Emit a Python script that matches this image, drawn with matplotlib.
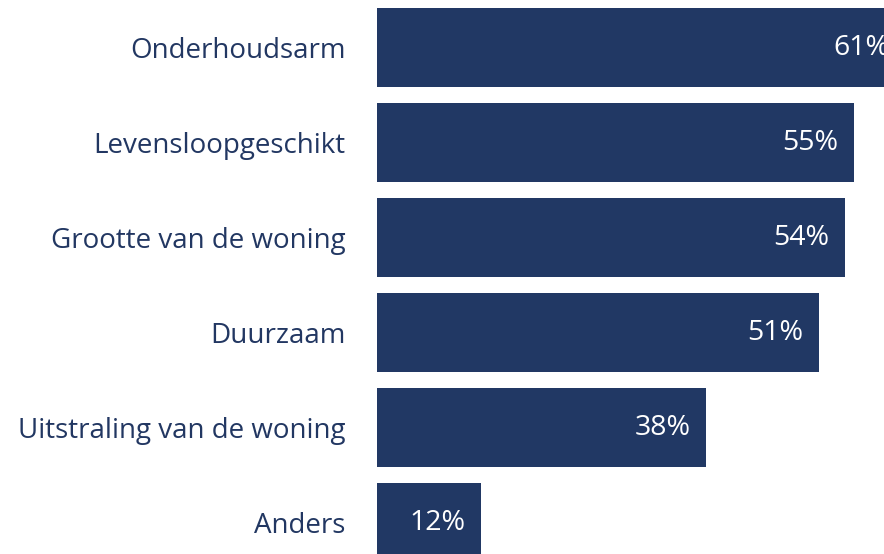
import matplotlib.pyplot as plt

categories = ["Onderhoudsarm", "Levensloopgeschikt", "Grootte van de woning",
              "Duurzaam", "Uitstraling van de woning", "Anders"]
values = [61, 55, 54, 51, 38, 12]

bar_color = "#213864"
text_color = "#223762"

plt.rcParams['font.family'] = ['Open Sans', 'DejaVu Sans']

fig = plt.figure(figsize=(8.84, 5.54), dpi=100)
ax = fig.add_axes([377 / 884, 0, 507 / 884, 1])

pos = list(range(len(categories)))
ax.barh(pos, values, height=0.83, color=bar_color)
ax.set_xlim(0, 58.5)
ax.set_ylim(5.33, -0.5)

for i, v in enumerate(values):
    ax.annotate(f"{v}%", xy=(v, i), xytext=(-11.5, 0), textcoords="offset points",
                ha="right", va="center", color="white", fontsize=20.5,
                annotation_clip=False)

ax.set_yticks(pos)
ax.set_yticklabels(categories, fontsize=20, color=text_color)
ax.tick_params(axis="y", length=0, pad=22.5)
ax.set_xticks([])
for s in ax.spines.values():
    s.set_visible(False)

fig.savefig("out.png", dpi=100)
